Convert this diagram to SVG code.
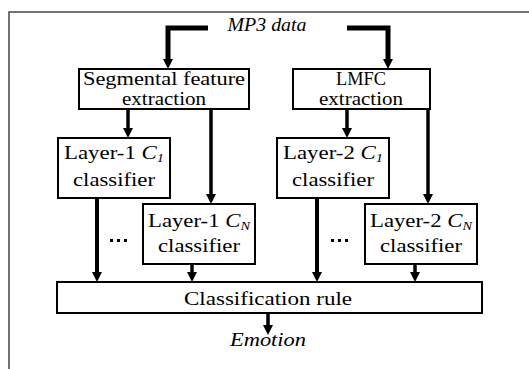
<svg xmlns="http://www.w3.org/2000/svg" width="529" height="369" viewBox="0 0 529 369">
<defs>
<style>
.box{fill:#fff;stroke:#000;stroke-width:2}
text{font-family:'Liberation Serif','Times New Roman','DejaVu Serif',serif;font-size:19px;fill:#000;text-anchor:middle}
.i{font-style:italic}
.s{font-size:12px;font-style:italic}
.c{fill:none;stroke:#000;stroke-width:3.5}
.frame{fill:none;stroke:#444;stroke-width:1.5}
</style>
<marker id="ah" markerUnits="userSpaceOnUse" markerWidth="12" markerHeight="10" viewBox="0 -5 12 10" refX="4" refY="0" orient="auto">
<path d="M0,-5 L10,0 L0,5 z" fill="#000"/>
</marker>
</defs>
<rect width="529" height="369" fill="#fff"/>
<path class="frame" d="M9,369 V12 H529"/>

<g id="mp3">
<text class="i" x="267" y="31" textLength="79" lengthAdjust="spacingAndGlyphs">MP3 data</text>
</g>
<g id="seg">
<rect class="box" x="79" y="69" width="170" height="40"/>
<text x="164" y="85" textLength="162" lengthAdjust="spacingAndGlyphs">Segmental feature</text>
<text x="164" y="105" textLength="84" lengthAdjust="spacingAndGlyphs">extraction</text>
</g>
<g id="lmfc">
<rect class="box" x="293" y="69" width="137" height="40"/>
<text x="361" y="85" textLength="50" lengthAdjust="spacingAndGlyphs">LMFC</text>
<text x="361" y="105" textLength="84" lengthAdjust="spacingAndGlyphs">extraction</text>
</g>
<g id="l1c1">
<rect class="box" x="58" y="138" width="112" height="60"/>
<text x="114" y="159" textLength="100" lengthAdjust="spacingAndGlyphs">Layer-1 <tspan class="i">C</tspan><tspan class="s" dy="3">1</tspan></text>
<text x="114" y="186" textLength="82" lengthAdjust="spacingAndGlyphs">classifier</text>
</g>
<g id="l1cn">
<rect class="box" x="143" y="204" width="112" height="60"/>
<text x="199" y="227" textLength="102" lengthAdjust="spacingAndGlyphs">Layer-1 <tspan class="i">C</tspan><tspan class="s" dy="3">N</tspan></text>
<text x="199" y="252" textLength="82" lengthAdjust="spacingAndGlyphs">classifier</text>
</g>
<g id="l2c1">
<rect class="box" x="277" y="138" width="112" height="60"/>
<text x="333" y="159" textLength="100" lengthAdjust="spacingAndGlyphs">Layer-2 <tspan class="i">C</tspan><tspan class="s" dy="3">1</tspan></text>
<text x="333" y="186" textLength="82" lengthAdjust="spacingAndGlyphs">classifier</text>
</g>
<g id="l2cn">
<rect class="box" x="365" y="204" width="112" height="60"/>
<text x="421" y="227" textLength="102" lengthAdjust="spacingAndGlyphs">Layer-2 <tspan class="i">C</tspan><tspan class="s" dy="3">N</tspan></text>
<text x="421" y="252" textLength="82" lengthAdjust="spacingAndGlyphs">classifier</text>
</g>
<g id="rule">
<rect class="box" x="57" y="282" width="425" height="31"/>
<text x="268" y="305" textLength="168" lengthAdjust="spacingAndGlyphs">Classification rule</text>
</g>
<g id="emotion">
<text class="i" x="268" y="346" textLength="76" lengthAdjust="spacingAndGlyphs">Emotion</text>
</g>
<g id="dots" fill="#000">
<rect x="110" y="239" width="3" height="3"/>
<rect x="117" y="239" width="3" height="3"/>
<rect x="124" y="239" width="3" height="3"/>
<rect x="331" y="239" width="3" height="3"/>
<rect x="338" y="239" width="3" height="3"/>
<rect x="345" y="239" width="3" height="3"/>
</g>

<g id="connectors">
<path class="c" style="stroke-width:5" d="M208,28 H168 V63" marker-end="url(#ah)"/>
<path class="c" style="stroke-width:5" d="M347,28 H388 V63" marker-end="url(#ah)"/>
<path class="c" d="M128,109 V132" marker-end="url(#ah)"/>
<path class="c" d="M211,109 V198" marker-end="url(#ah)"/>
<path class="c" d="M347,109 V132" marker-end="url(#ah)"/>
<path class="c" d="M428,109 V198" marker-end="url(#ah)"/>
<path class="c" style="stroke-width:4" d="M97,198 V276" marker-end="url(#ah)"/>
<path class="c" d="M192,264 V276" marker-end="url(#ah)"/>
<path class="c" style="stroke-width:4" d="M317,198 V276" marker-end="url(#ah)"/>
<path class="c" d="M415,264 V276" marker-end="url(#ah)"/>
<path class="c" d="M268,313 V329" marker-end="url(#ah)"/>
</g>
</svg>
